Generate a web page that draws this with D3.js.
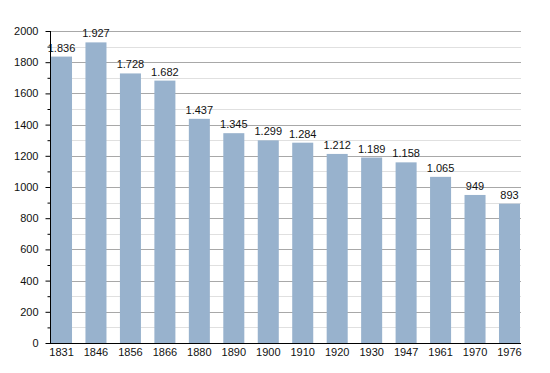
<!DOCTYPE html>
<html>
<head>
<meta charset="utf-8">
<script src="https://cdn.jsdelivr.net/npm/d3@7"></script>
<style>
  body { margin: 0; background: #fff; }
  text { font-family: "Liberation Sans", Arial, sans-serif; }
</style>
</head>
<body>
<div id="chart"></div>
<script>
const years = ['1831', '1846', '1856', '1866', '1880', '1890', '1900', '1910', '1920', '1930', '1947', '1961', '1970', '1976'];
const population = [1836, 1927, 1728, 1682, 1437, 1345, 1299, 1284, 1212, 1189, 1158, 1065, 949, 893];
const yTicks = [0, 200, 400, 600, 800, 1000, 1200, 1400, 1600, 1800, 2000];

const w = 550, h = 373;
const padLeft = 51, padRight = 520, padTop = 31, padBottom = 343;

const svg = d3.select('#chart')
  .append('svg')
  .attr('width', w)
  .attr('height', h);

const yScale = d3.scaleLinear().domain([0, 2000]).range([padBottom, padTop]);
const xScale = d3.scaleBand()
  .domain(years)
  .range([padLeft, padRight])
  .paddingInner(0.39)
  .paddingOuter(0)
  .align(0);

// minor grid
svg.append('g')
  .selectAll('line')
  .data(d3.range(100, 2000, 200))
  .enter()
  .append('line')
  .attr('x1', padLeft).attr('x2', padRight + 1)
  .attr('y1', d => Math.round(yScale(d)) + 0.5)
  .attr('y2', d => Math.round(yScale(d)) + 0.5)
  .attr('stroke', '#e0e0e0');

// major grid
svg.append('g')
  .selectAll('line')
  .data(yTicks.slice(1))
  .enter()
  .append('line')
  .attr('x1', padLeft).attr('x2', padRight + 1)
  .attr('y1', d => Math.round(yScale(d)) + 0.5)
  .attr('y2', d => Math.round(yScale(d)) + 0.5)
  .attr('stroke', '#a8a8a8');

// bars
svg.append('g')
  .selectAll('rect')
  .data(population)
  .enter()
  .append('rect')
  .attr('x', (d, i) => xScale(years[i]))
  .attr('y', d => yScale(d))
  .attr('width', xScale.bandwidth())
  .attr('height', d => yScale(0) - yScale(d))
  .attr('fill', '#98b2cd');

const fmt = d => d >= 1000 ? d3.format(',')(d).replace(',', '.') : String(d);

svg.append('g')
  .selectAll('text')
  .data(population)
  .enter()
  .append('text')
  .attr('x', (d, i) => xScale(years[i]) + xScale.bandwidth() / 2)
  .attr('y', d => yScale(d) - 5)
  .attr('text-anchor', 'middle')
  .attr('font-size', '11px')
  .attr('fill', '#111')
  .text(fmt);

// y axis
const yAxis = d3.axisLeft(yScale)
  .tickValues(d3.range(0, 2001, 100))
  .tickSize(5)
  .tickFormat(d => d % 200 === 0 ? d : '');

const yg = svg.append('g')
  .attr('transform', `translate(${padLeft - 0.5}, 0)`)
  .call(yAxis);
yg.select('.domain').attr('stroke', '#000').attr('d', `M0,${padTop}V${padBottom + 0.5}`);
yg.selectAll('.tick line').attr('stroke', '#000')
  .attr('x2', d => d % 200 === 0 ? -5 : -3);
yg.selectAll('.tick text')
  .attr('x', -12)
  .attr('font-size', '11px')
  .attr('font-family', '"Liberation Sans", Arial, sans-serif')
  .attr('fill', '#111');

// x axis
const xg = svg.append('g')
  .attr('transform', `translate(0, ${padBottom + 0.5})`)
  .call(d3.axisBottom(xScale).tickSize(0).tickPadding(5));
xg.select('.domain').attr('stroke', '#000').attr('stroke-width', 1.2)
  .attr('d', `M${padLeft - 1},0H${padRight + 1}`);
xg.selectAll('.tick text')
  .attr('font-size', '11px')
  .attr('font-family', '"Liberation Sans", Arial, sans-serif')
  .attr('fill', '#111');
</script>
</body>
</html>
